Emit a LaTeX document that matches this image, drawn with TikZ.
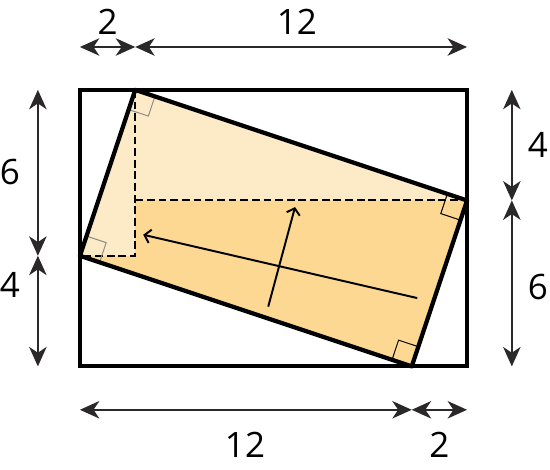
\documentclass[tikz,border=0pt]{standalone}
\usepackage{fontspec}
\setmainfont{Open Sans}
\usetikzlibrary{arrows.meta}
\definecolor{paleorange}{HTML}{FDEAC7}
\definecolor{lightorange}{HTML}{FDD892}
\definecolor{dimgrey}{HTML}{2B2829}
\definecolor{markgrey}{HTML}{8A8A8A}

\begin{document}
\begin{tikzpicture}[x=0.5cm, y=0.5cm,
  box/.style={line width=2.1pt},
  tilt/.style={line width=2.2pt, line join=round},
  guide/.style={line width=1pt, dash pattern=on 4pt off 2pt},
  dim/.style={{Stealth[length=10pt,width=9pt,inset=3pt]}-{Stealth[length=10pt,width=9pt,inset=3pt]}, draw=dimgrey, line width=0.8pt},
  axis/.style={-{Straight Barb[length=3pt,width=7pt]}, line width=1pt},
  corner/.style={line width=0.5pt},
  lbl/.style={font=\fontsize{18}{21}\selectfont}]
\useasboundingbox (-2.89,-3.74) rectangle (17.0,13.25);

% outer box and the tilted rectangle
\coordinate (O) at (0,0);
\coordinate (E) at (14,10);
\coordinate (T) at (2,10);
\coordinate (R) at (14,6);
\coordinate (B) at (12,0);
\coordinate (L) at (0,4);
\fill[paleorange] (T) -- (R) -- (B) -- (L) -- cycle;
\begin{scope}
  \clip (T) -- (R) -- (B) -- (L) -- cycle;
  \fill[lightorange] (L) -- (0,4) -| (2,6) -- (R) |- (O) -- cycle;
\end{scope}
\draw[guide] (T) -- (2,4) -- (L);
\draw[guide] (2,6) -- (R);

% right angles
\draw[corner, draw=markgrey] (T) ++(0.712,-0.237) -- ++(-0.237,-0.712) -- ++(-0.712,0.237);
\draw[corner, draw=markgrey] (L) ++(0.237,0.712) -- ++(0.712,-0.237) -- ++(-0.237,-0.712);
\draw[corner] (R) ++(-0.712,0.237) -- ++(-0.237,-0.712) -- ++(0.712,-0.237);
\draw[corner] (B) ++(-0.712,0.237) -- ++(0.237,0.712) -- ++(0.712,-0.237);

\draw[tilt] (T) -- (R) -- (B) -- (L) -- cycle;
\draw[box] (O) rectangle (E);

% the two axes
\coordinate (a1) at (12.2,2.47);
\coordinate (a2) at (2.29,4.76);
\coordinate (b1) at (6.81,2.16);
\coordinate (b2) at (7.78,5.76);
\draw[axis] (a1) -- (a2);
\draw[axis] (b1) -- (b2);

% dimensions
\coordinate (t0) at (0,11.55);
\coordinate (t1) at (2,11.55);
\coordinate (t2) at (14,11.55);
\coordinate (u0) at (0,-1.57);
\coordinate (u1) at (12,-1.57);
\coordinate (u2) at (14,-1.57);
\coordinate (l0) at (-1.52,10);
\coordinate (l1) at (-1.52,4);
\coordinate (l2) at (-1.52,0);
\coordinate (r0) at (15.62,10);
\coordinate (r1) at (15.62,6);
\coordinate (r2) at (15.62,0);
\draw[dim] (t0) -- (t1);
\draw[dim] (t1) -- (t2);
\draw[dim] (u0) -- (u1);
\draw[dim] (u1) -- (u2);
\draw[dim] (l0) -- (l1);
\draw[dim] (l1) -- (l2);
\draw[dim] (r0) -- (r1);
\draw[dim] (r1) -- (r2);

\node[lbl] (top2) at (1,12.46) {2};
\node[lbl] (top12) at (7.85,12.46) {12};
\node[lbl] (bot12) at (5.97,-2.84) {12};
\node[lbl] (bot2) at (13,-2.84) {2};
\node[lbl] (left6) at (-2.53,7.03) {6};
\node[lbl] (left4) at (-2.53,2.95) {4};
\node[lbl] (right4) at (16.56,8) {4};
\node[lbl] (right6) at (16.56,2.88) {6};
\end{tikzpicture}
\end{document}
